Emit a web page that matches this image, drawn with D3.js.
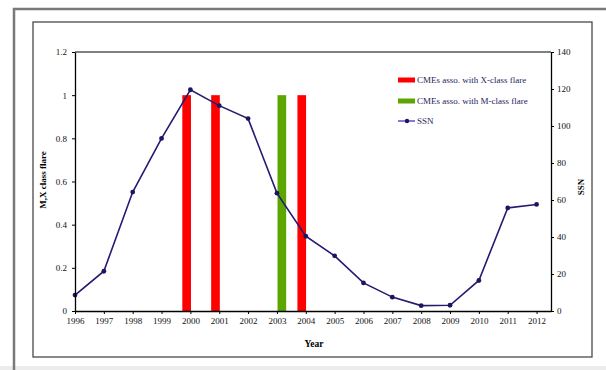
<!DOCTYPE html>
<html>
<head>
<meta charset="utf-8">
<script src="https://cdn.jsdelivr.net/npm/d3@7"></script>
<style>
  html, body { margin: 0; padding: 0; background: #fff; }
  svg { display: block; font-family: "Liberation Serif", "Times New Roman", serif; }
</style>
</head>
<body>
<div id="chart"></div>
<script>
// yearly sunspot number
const years = [1996, 1997, 1998, 1999, 2000, 2001, 2002, 2003, 2004, 2005, 2006, 2007, 2008, 2009, 2010, 2011, 2012];
const ssn = [8.6, 21.5, 64.3, 93.3, 119.6, 111.0, 104.0, 63.7, 40.4, 29.8, 15.2, 7.5, 2.9, 3.1, 16.5, 55.7, 57.6];

// CME events (fractional year) with flare class
const xFlareDates = [1999.87, 2000.87, 2003.86];
const xFlareValues = [1, 1, 1];
const mFlareDates = [2003.17];
const mFlareValues = [1];

const leftTicks = [0, 0.2, 0.4, 0.6, 0.8, 1, 1.2];
const rightTicks = [0, 20, 40, 60, 80, 100, 120, 140];

const legendLabels = ["CMEs asso. with X-class flare", "CMEs asso. with M-class flare", "SSN"];

const width = 606, height = 370;
const margin = { left: 75, right: 551, top: 52, bottom: 311 };

const svg = d3.select("#chart").append("svg")
  .attr("width", width)
  .attr("height", height);

// outer frames
svg.append("rect")
  .attr("x", 0).attr("y", 366).attr("width", width).attr("height", 4)
  .attr("fill", "#ececec");
svg.append("path")
  .attr("d", `M14,${height} V9 H${width}`)
  .attr("fill", "none")
  .attr("stroke", "#7a7a7a")
  .attr("stroke-width", 2.5);
svg.append("rect")
  .attr("x", 33).attr("y", 22).attr("width", 559).attr("height", 335)
  .attr("fill", "none")
  .attr("stroke", "#4a4a4a")
  .attr("stroke-width", 1.3);

const x = d3.scaleLinear()
  .domain([1996, 2012.5])
  .range([margin.left, margin.right]);

const yLeft = d3.scaleLinear()
  .domain([0, 1.2])
  .range([margin.bottom, margin.top]);

const yRight = d3.scaleLinear()
  .domain([0, 140])
  .range([margin.bottom, margin.top]);

// top border of plot area
svg.append("line")
  .attr("x1", margin.left).attr("x2", margin.right)
  .attr("y1", margin.top).attr("y2", margin.top)
  .attr("stroke", "#808080")
  .attr("stroke-width", 2);

// bars
const barW = x(1996.3) - x(1996);
const bars = [];
xFlareDates.forEach((d, i) => bars.push({ date: d, value: xFlareValues[i], color: "#ff0000" }));
mFlareDates.forEach((d, i) => bars.push({ date: d, value: mFlareValues[i], color: "#5ba600" }));

svg.append("g")
  .selectAll("rect")
  .data(bars)
  .enter().append("rect")
  .attr("x", d => x(d.date) - barW / 2)
  .attr("y", d => yLeft(d.value))
  .attr("width", barW)
  .attr("height", d => yLeft(0) - yLeft(d.value))
  .attr("fill", d => d.color);

// SSN line
const line = d3.line()
  .x((d, i) => x(years[i]))
  .y(d => yRight(d));

svg.append("path")
  .datum(ssn)
  .attr("d", line)
  .attr("fill", "none")
  .attr("stroke", "#241a72")
  .attr("stroke-width", 1.6);

svg.append("g")
  .selectAll("circle")
  .data(ssn)
  .enter().append("circle")
  .attr("cx", (d, i) => x(years[i]))
  .attr("cy", d => yRight(d))
  .attr("r", 2.4)
  .attr("fill", "#1c165e");

// axes
const styleAxis = g => {
  g.select(".domain").attr("stroke", "#000").attr("stroke-width", 1.3);
  g.selectAll(".tick line").attr("stroke", "#000");
  g.selectAll(".tick text")
    .attr("fill", "#111")
    .style("font-size", "9px")
    .style("font-family", "'Liberation Serif', serif");
};

svg.append("g")
  .attr("transform", `translate(${margin.left},0)`)
  .call(d3.axisLeft(yLeft).tickValues(leftTicks).tickSize(3).tickSizeOuter(0)
    .tickFormat(d => String(+d.toFixed(1))).tickPadding(5))
  .call(styleAxis);

svg.append("g")
  .attr("transform", `translate(${margin.right},0)`)
  .call(d3.axisRight(yRight).tickValues(rightTicks).tickSize(3).tickSizeOuter(0).tickPadding(3))
  .call(styleAxis);

svg.append("g")
  .attr("transform", `translate(0,${margin.bottom})`)
  .call(d3.axisBottom(x).tickValues(years).tickFormat(d3.format("d")).tickSize(3).tickSizeOuter(0).tickPadding(4))
  .call(styleAxis);

// axis titles
svg.append("text")
  .attr("x", (margin.left + margin.right) / 2 + 1)
  .attr("y", 347)
  .attr("text-anchor", "middle")
  .style("font-size", "9.5px")
  .style("font-weight", "bold")
  .text("Year");

svg.append("text")
  .attr("transform", `translate(46,180) rotate(-90)`)
  .attr("text-anchor", "middle")
  .style("font-size", "9px")
  .style("font-weight", "bold")
  .text("M,X class flare");

svg.append("text")
  .attr("transform", `translate(584,187) rotate(-90)`)
  .attr("text-anchor", "middle")
  .style("font-size", "9px")
  .style("font-weight", "bold")
  .text("SSN");

// legend
const legend = svg.append("g").attr("transform", "translate(398,80)");
const legendColors = ["#ff0000", "#5ba600"];

legend.selectAll("rect")
  .data(legendColors)
  .enter().append("rect")
  .attr("x", 0)
  .attr("y", (d, i) => i * 21 - 2.5)
  .attr("width", 17)
  .attr("height", 5)
  .attr("fill", d => d);

legend.append("line")
  .attr("x1", 0).attr("x2", 17)
  .attr("y1", 41).attr("y2", 41)
  .attr("stroke", "#5a3cc0")
  .attr("stroke-width", 1.4);
legend.append("circle")
  .attr("cx", 9).attr("cy", 41).attr("r", 2.2)
  .attr("fill", "#1c165e");

legend.selectAll("text")
  .data(legendLabels)
  .enter().append("text")
  .attr("x", 19)
  .attr("y", (d, i) => i * 20.5)
  .attr("dy", "0.35em")
  .attr("fill", "#1e1e5e")
  .style("font-size", "9px")
  .text(d => d);
</script>
</body>
</html>
